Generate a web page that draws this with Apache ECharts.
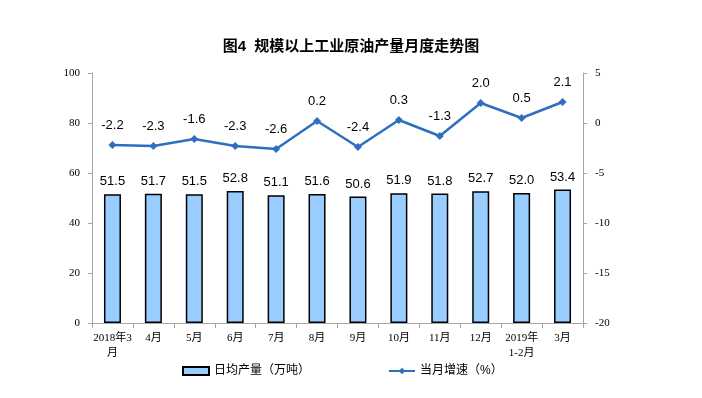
<!DOCTYPE html>
<html>
<head>
<meta charset="utf-8">
<script src="https://cdn.jsdelivr.net/npm/echarts@6/dist/echarts.min.js"></script>
<style>
  html, body { margin: 0; padding: 0; background: #fff; }
  #main { width: 702px; height: 398px; }
</style>
</head>
<body>
<div id="main"></div>
<script>
var categories = ['2018年3\n月', '4月', '5月', '6月', '7月', '8月', '9月', '10月', '11月', '12月', '2019年\n1-2月', '3月'];
var dailyOutput = [51.5, 51.7, 51.5, 52.8, 51.1, 51.6, 50.6, 51.9, 51.8, 52.7, 52.0, 53.4];
var growthRate = [-2.2, -2.3, -1.6, -2.3, -2.6, 0.2, -2.4, 0.3, -1.3, 2.0, 0.5, 2.1];

var serif = '"Liberation Serif", "Noto Sans CJK SC", serif';
var sans = '"Liberation Sans", Arial, "Noto Sans CJK SC", sans-serif';

var chart = echarts.init(document.getElementById('main'));
var option = {
  animation: false,
  title: {
    text: '图4  规模以上工业原油产量月度走势图',
    left: 'center',
    top: 34,
    textStyle: { fontSize: 15, fontWeight: 'bold', color: '#000', fontFamily: sans }
  },
  legend: {
    bottom: 16,
    left: 177,
    itemGap: 78,
    itemWidth: 26,
    itemHeight: 8,
    textStyle: { fontSize: 12, color: '#000', fontFamily: sans },
    data: [
      { name: '日均产量（万吨）', icon: 'rect' },
      { name: '当月增速（%）' }
    ]
  },
  grid: { left: 92, right: 119, top: 73, bottom: 75 },
  xAxis: {
    type: 'category',
    data: categories,
    axisLine: { lineStyle: { color: '#a6a6a6' } },
    axisTick: { show: true, lineStyle: { color: '#a6a6a6' } },
    axisLabel: { interval: 0, color: '#000', fontSize: 11, fontFamily: serif, lineHeight: 15 }
  },
  yAxis: [
    {
      type: 'value', min: 0, max: 100, interval: 20,
      splitLine: { show: false },
      axisLine: { show: true, lineStyle: { color: '#a6a6a6' } },
      axisTick: { show: true, length: 4, lineStyle: { color: '#a6a6a6' } },
      axisLabel: { color: '#000', fontSize: 11, fontFamily: serif, margin: 12 }
    },
    {
      type: 'value', min: -20, max: 5, interval: 5,
      splitLine: { show: false },
      axisLine: { show: true, lineStyle: { color: '#a6a6a6' } },
      axisTick: { show: true, length: 4, lineStyle: { color: '#a6a6a6' } },
      axisLabel: { color: '#000', fontSize: 11, fontFamily: serif, margin: 12 }
    }
  ],
  series: [
    {
      name: '日均产量（万吨）',
      type: 'bar',
      data: dailyOutput,
      barWidth: 17,
      itemStyle: { color: '#99ccff', borderColor: '#000', borderWidth: 1.5 },
      label: {
        show: true, position: 'top', distance: 6,
        color: '#000', fontSize: 13, fontFamily: sans,
        formatter: function (p) { return p.value.toFixed(1); }
      }
    },
    {
      name: '当月增速（%）',
      type: 'line',
      yAxisIndex: 1,
      data: growthRate,
      symbol: 'diamond',
      symbolSize: 8,
      lineStyle: { color: '#2e6fbf', width: 2.5 },
      itemStyle: { color: '#2e6fbf' },
      label: {
        show: true, position: 'top', distance: 9,
        color: '#000', fontSize: 13, fontFamily: sans,
        formatter: function (p) { return p.value.toFixed(1); }
      }
    }
  ]
};
chart.setOption(option);
</script>
</body>
</html>
